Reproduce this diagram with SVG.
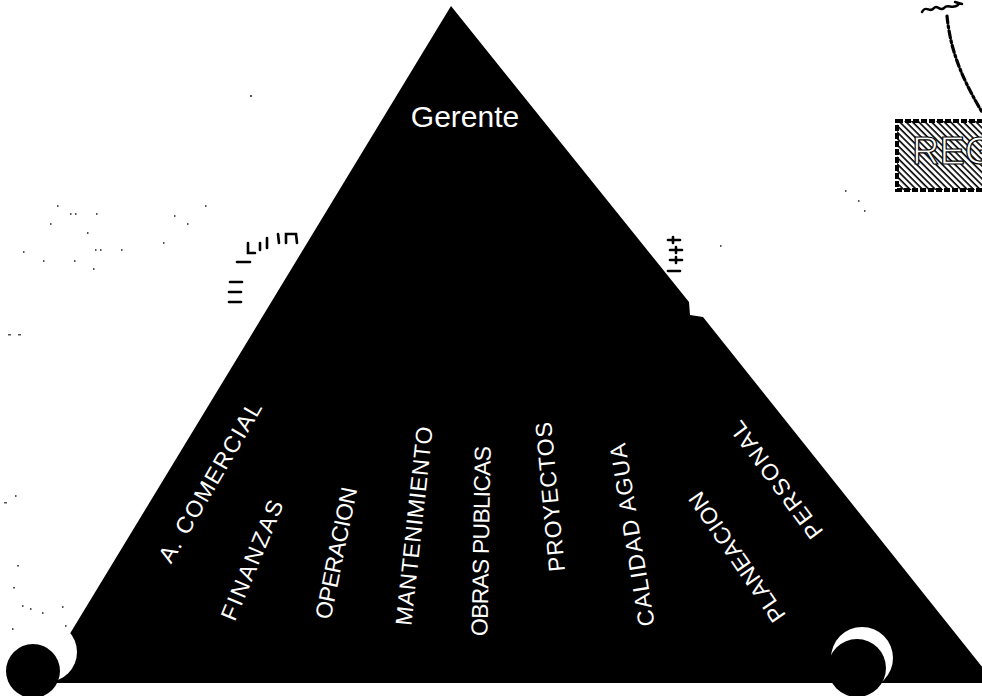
<svg xmlns="http://www.w3.org/2000/svg" width="982" height="696" viewBox="0 0 982 696">
  <defs>
    <pattern id="hatch" patternUnits="userSpaceOnUse" width="4.5" height="4.5" patternTransform="rotate(-45)">
      <rect width="4.5" height="4.5" fill="#fff"/>
      <line x1="1" y1="0" x2="1" y2="4.5" stroke="#000" stroke-width="1.6"/>
    </pattern>
    <style>
      .lbl { font-family: "Liberation Sans", Arial, sans-serif; font-size: 23px; fill: #fff; text-anchor: middle; dominant-baseline: central; }
      .tick { stroke: #000; stroke-width: 2.6; fill: none; stroke-linecap: round; }
      .speck { fill: #555; }
    </style>
  </defs>
  <rect width="982" height="696" fill="#fff"/>

  <g id="specks">
    <rect class="speck" x="57" y="205" width="1.5" height="2"/>
    <rect class="speck" x="70" y="213" width="1.5" height="2"/>
    <rect class="speck" x="75" y="213" width="1.5" height="2"/>
    <rect class="speck" x="96" y="213" width="1.5" height="2"/>
    <rect class="speck" x="50" y="223" width="1.5" height="2"/>
    <rect class="speck" x="87" y="232" width="1.5" height="2"/>
    <rect class="speck" x="23" y="251" width="1.5" height="2"/>
    <rect class="speck" x="43" y="260" width="1.5" height="2"/>
    <rect class="speck" x="74" y="260" width="1.5" height="2"/>
    <rect class="speck" x="95" y="249" width="1.5" height="2"/>
    <rect class="speck" x="100" y="249" width="1.5" height="2"/>
    <rect class="speck" x="121" y="249" width="1.5" height="2"/>
    <rect class="speck" x="93" y="268" width="1.5" height="2"/>
    <rect class="speck" x="163" y="242" width="1.5" height="2"/>
    <rect class="speck" x="174" y="215" width="1.5" height="2"/>
    <rect class="speck" x="187" y="223" width="1.5" height="2"/>
    <rect class="speck" x="205" y="205" width="1.5" height="2"/>
    <rect class="speck" x="8" y="334" width="3" height="1.5"/>
    <rect class="speck" x="18" y="334" width="3" height="1.5"/>
    <rect class="speck" x="15" y="495" width="1.5" height="2"/>
    <rect class="speck" x="4" y="502" width="3" height="1.5"/>
    <rect class="speck" x="17" y="565" width="2" height="1.5"/>
    <rect class="speck" x="13" y="587" width="2" height="1.5"/>
    <rect class="speck" x="22" y="605" width="1.5" height="2"/>
    <rect class="speck" x="30" y="608" width="1.5" height="2"/>
    <rect class="speck" x="42" y="612" width="1.5" height="2"/>
    <rect class="speck" x="62" y="606" width="1.5" height="2"/>
    <rect class="speck" x="65" y="625" width="1.5" height="2"/>
    <rect class="speck" x="12" y="628" width="1.5" height="2"/>
    <rect class="speck" x="250" y="95" width="2" height="2"/>
    <rect class="speck" x="720" y="245" width="1.5" height="2"/>
    <rect class="speck" x="845" y="190" width="1.5" height="2"/>
    <rect class="speck" x="858" y="200" width="1.5" height="2"/>
    <rect class="speck" x="864" y="210" width="1.5" height="2"/>
  </g>

  <g id="pyramid">
    <polygon points="451,6 689,302 690,315 703,317 995,683 40,683" fill="#000"/>
    <circle cx="47" cy="652" r="30" fill="#fff"/>
    <circle cx="33" cy="671" r="27" fill="#000"/>
    <circle cx="862" cy="658" r="31" fill="#fff"/>
    <circle cx="857" cy="668" r="29" fill="#000"/>
  </g>

  <g id="gerente">
    <text x="465" y="127" style="font-family:'Liberation Sans', Arial, sans-serif; font-size:30px; fill:#fff; text-anchor:middle">Gerente</text>
  </g>

  <g id="areas">
    <g id="a-comercial"><text class="lbl" transform="translate(210,482) rotate(-59.7)" textLength="182" lengthAdjust="spacing">A. COMERCIAL</text></g>
    <g id="finanzas"><text class="lbl" transform="translate(252,560) rotate(-67.4)" textLength="128" lengthAdjust="spacing">FINANZAS</text></g>
    <g id="operacion"><text class="lbl" transform="translate(336,553) rotate(-78.5)" textLength="134" lengthAdjust="spacing">OPERACION</text></g>
    <g id="mantenimiento"><text class="lbl" transform="translate(414,526) rotate(-83.8)" textLength="200" lengthAdjust="spacing">MANTENIMIENTO</text></g>
    <g id="obras-publicas"><text class="lbl" transform="translate(481,541) rotate(-89)" textLength="190" lengthAdjust="spacing">OBRAS PUBLICAS</text></g>
    <g id="proyectos"><text class="lbl" transform="translate(550,497) rotate(-95.3)" textLength="150" lengthAdjust="spacing">PROYECTOS</text></g>
    <g id="calidad-agua"><text class="lbl" transform="translate(632,535) rotate(-99.2)" textLength="185" lengthAdjust="spacing">CALIDAD AGUA</text></g>
    <g id="planeacion"><text class="lbl" transform="translate(737,557) rotate(-124.4)" textLength="152" lengthAdjust="spacing">PLANEACION</text></g>
    <g id="personal"><text class="lbl" transform="translate(776,480) rotate(-126.5)" textLength="140" lengthAdjust="spacing">PERSONAL</text></g>
  </g>

  <g id="ticks-left">
    <line class="tick" x1="229" y1="302" x2="241" y2="302"/>
    <line class="tick" x1="229" y1="292" x2="241" y2="292"/>
    <line class="tick" x1="230" y1="282" x2="242" y2="282"/>
    <line class="tick" x1="237" y1="262" x2="250" y2="262"/>
    <polyline class="tick" points="248,243 248,253 255,253"/>
    <line class="tick" x1="260" y1="243" x2="260" y2="250"/>
    <line class="tick" x1="267" y1="238" x2="267" y2="248"/>
    <line class="tick" x1="278" y1="234" x2="279" y2="243"/>
    <path class="tick" d="M286,243 L286,234 L296,234 L297,243"/>
  </g>

  <g id="ticks-right">
    <line class="tick" x1="668" y1="240" x2="680" y2="240"/>
    <line class="tick" x1="670" y1="250" x2="682" y2="250"/>
    <line class="tick" x1="670" y1="260" x2="682" y2="260"/>
    <line class="tick" x1="668" y1="271" x2="680" y2="271"/>
    <line class="tick" x1="673" y1="237" x2="673" y2="243" stroke-width="1.5"/>
    <line class="tick" x1="676" y1="247" x2="676" y2="253" stroke-width="1.5"/>
    <line class="tick" x1="676" y1="257" x2="676" y2="263" stroke-width="1.5"/>
  </g>

  <g id="connectors">
    <path d="M947,16 C950,45 958,72 982,112" fill="none" stroke="#000" stroke-width="3.2" stroke-dasharray="7 3 2 3" stroke-linecap="round"/>
    <path d="M922,12 C926,4 930,14 934,8 C937,4 940,12 944,8 C948,3 952,10 958,5 M955,2 L962,4" fill="none" stroke="#000" stroke-width="2.5" stroke-linecap="round"/>
  </g>

  <g id="reg">
    <rect x="897" y="121" width="100" height="69" fill="url(#hatch)" stroke="#000" stroke-width="4" stroke-dasharray="6 2"/>
    <text x="912" y="164" style="font-family:'Liberation Sans', Arial, sans-serif; font-size:38px; fill:#fff; stroke:#000; stroke-width:1.2">REG</text>
  </g>
</svg>
